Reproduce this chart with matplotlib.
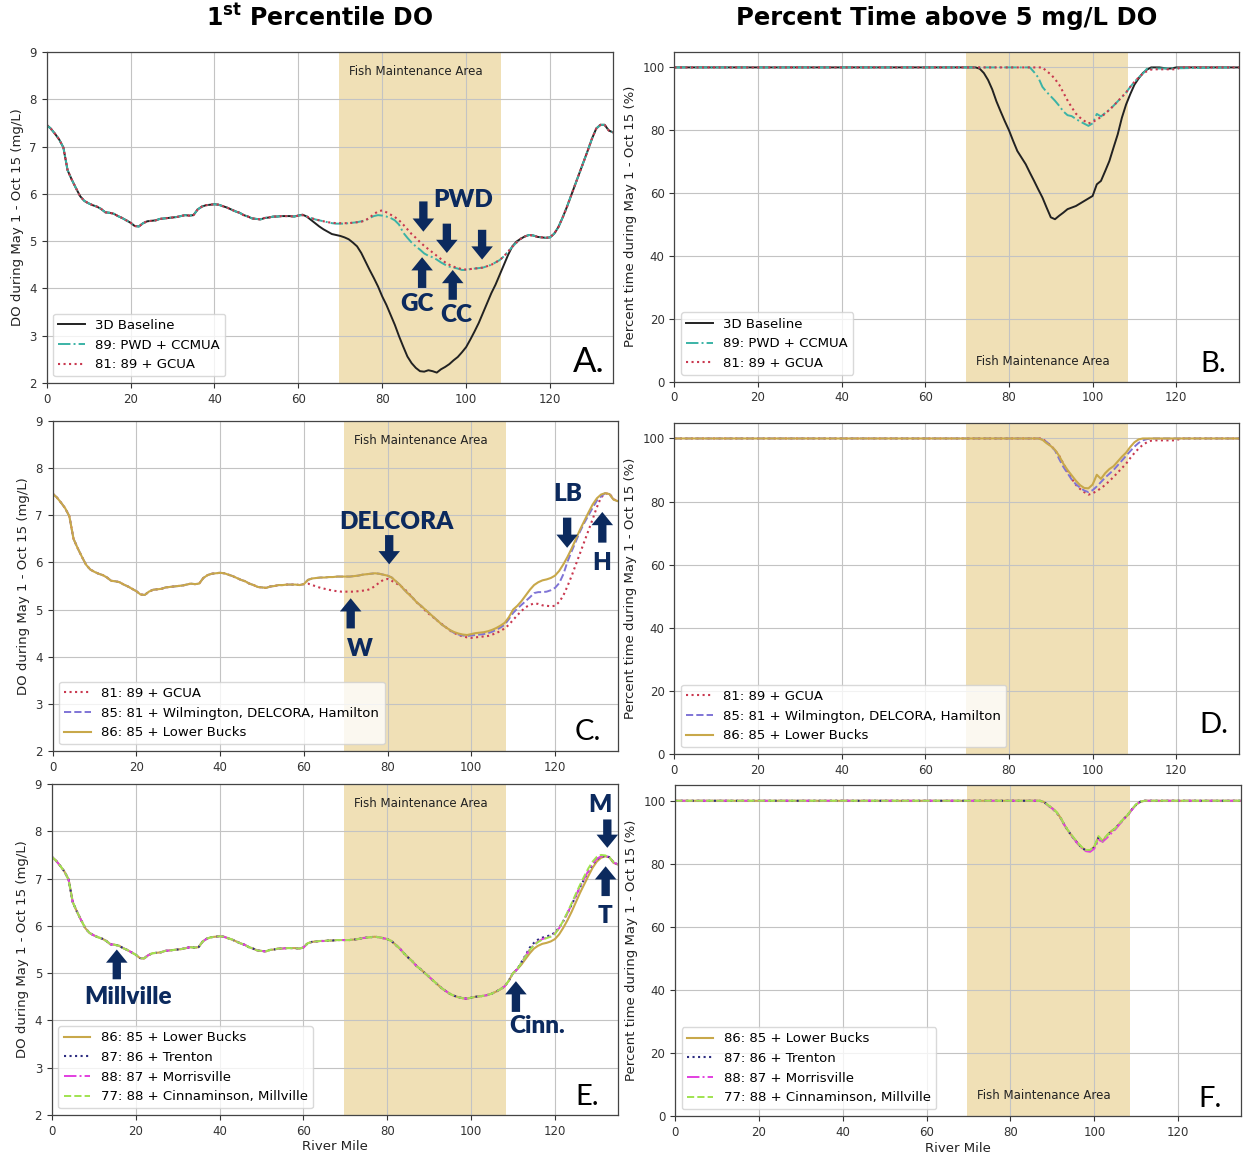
import matplotlib
matplotlib.use("Agg")
import matplotlib.pyplot as plt

plt.rcParams['font.family'] = ['DejaVu Sans']
plt.rcParams['mathtext.fontset'] = 'custom'
plt.rcParams['mathtext.rm'] = 'DejaVu Sans:bold'
plt.rcParams['mathtext.bf'] = 'DejaVu Sans:bold'

# ---------------------------------------------------------------------------
# 1st percentile DO (mg/L) by river mile
# ---------------------------------------------------------------------------
UP_MILE = list(range(0, 61))
UP_DO = [7.46, 7.38, 7.27, 7.15, 6.98, 6.50, 6.30, 6.12, 5.95, 5.85,
         5.80, 5.76, 5.73, 5.68, 5.61, 5.60, 5.58, 5.53, 5.49, 5.44,
         5.39, 5.32, 5.31, 5.38, 5.42, 5.43, 5.44, 5.47, 5.48, 5.49,
         5.50, 5.51, 5.53, 5.55, 5.54, 5.55, 5.67, 5.73, 5.76, 5.77,
         5.78, 5.77, 5.74, 5.71, 5.67, 5.63, 5.60, 5.55, 5.52, 5.48,
         5.47, 5.46, 5.49, 5.50, 5.52, 5.52, 5.53, 5.53, 5.53, 5.52,
         5.54]

BASE_MILE = list(range(61, 113))
BASE_DO = [5.56, 5.52, 5.45, 5.38, 5.31, 5.25, 5.20, 5.15, 5.13, 5.11,
           5.08, 5.04, 4.97, 4.89, 4.75, 4.57, 4.39, 4.22, 4.04, 3.83,
           3.65, 3.44, 3.23, 2.99, 2.77, 2.56, 2.42, 2.32, 2.25, 2.24,
           2.27, 2.25, 2.22, 2.29, 2.34, 2.40, 2.48, 2.55, 2.65, 2.76,
           2.92, 3.09, 3.27, 3.48, 3.69, 3.90, 4.08, 4.29, 4.50, 4.71,
           4.89, 4.99]

S89_MILE = list(range(61, 101))
S89_DO = [5.55, 5.52, 5.49, 5.46, 5.44, 5.42, 5.40, 5.38, 5.37, 5.37,
          5.37, 5.38, 5.39, 5.40, 5.42, 5.44, 5.49, 5.53, 5.55, 5.54,
          5.52, 5.49, 5.44, 5.35, 5.18, 5.07, 4.97, 4.89, 4.82, 4.74,
          4.69, 4.66, 4.61, 4.55, 4.50, 4.46, 4.44, 4.42, 4.39, 4.39]

S81_MILE = list(range(61, 136))
S81_DO = [5.55, 5.52, 5.49, 5.46, 5.44, 5.42, 5.40, 5.39, 5.38, 5.38,
          5.38, 5.38, 5.39, 5.40, 5.41, 5.44, 5.50, 5.57, 5.63, 5.65,
          5.61, 5.56, 5.51, 5.44, 5.35, 5.25, 5.15, 5.07, 4.98, 4.90,
          4.83, 4.76, 4.69, 4.62, 4.55, 4.50, 4.46, 4.43, 4.41, 4.40,
          4.41, 4.42, 4.43, 4.44, 4.47, 4.50, 4.55, 4.60, 4.68, 4.78,
          4.88, 4.97, 5.05, 5.10, 5.13, 5.12, 5.09, 5.08, 5.07, 5.08,
          5.16, 5.30, 5.50, 5.72, 5.96, 6.20, 6.44, 6.68, 6.92, 7.17,
          7.38, 7.46, 7.46, 7.34, 7.30]

S86_MILE = list(range(61, 136))
S86_DO = [5.63, 5.66, 5.67, 5.68, 5.68, 5.69, 5.69, 5.70, 5.70, 5.70,
          5.70, 5.71, 5.72, 5.74, 5.75, 5.76, 5.77, 5.76, 5.74, 5.72,
          5.68, 5.60, 5.52, 5.42, 5.33, 5.25, 5.15, 5.08, 5.00, 4.92,
          4.84, 4.76, 4.68, 4.62, 4.56, 4.52, 4.49, 4.47, 4.46, 4.48,
          4.50, 4.51, 4.52, 4.54, 4.57, 4.61, 4.66, 4.72, 4.84, 5.00,
          5.08, 5.18, 5.30, 5.42, 5.52, 5.58, 5.62, 5.64, 5.67, 5.72,
          5.82, 5.96, 6.12, 6.30, 6.50, 6.70, 6.88, 7.06, 7.23, 7.36,
          7.44, 7.47, 7.45, 7.33, 7.30]

S85_MILE = list(range(96, 132))
S85_DO = [4.50, 4.47, 4.45, 4.44, 4.45, 4.46, 4.47, 4.48, 4.50, 4.53,
          4.57, 4.62, 4.68, 4.80, 4.93, 5.02, 5.10, 5.18, 5.26, 5.35,
          5.37, 5.37, 5.38, 5.41, 5.46, 5.56, 5.75, 6.02, 6.24, 6.45,
          6.66, 6.84, 7.00, 7.16, 7.31, 7.40]

UPPER_MILE = list(range(112, 136))
S87_DO = [5.23, 5.38, 5.54, 5.64, 5.71, 5.75, 5.78, 5.80, 5.86, 5.96,
          6.10, 6.27, 6.45, 6.63, 6.82, 6.99, 7.16, 7.30, 7.41, 7.46,
          7.48, 7.45, 7.34, 7.30]
S88_DO = [5.22, 5.36, 5.50, 5.60, 5.67, 5.72, 5.75, 5.78, 5.84, 5.95,
          6.10, 6.27, 6.45, 6.64, 6.83, 7.00, 7.17, 7.31, 7.42, 7.47,
          7.48, 7.45, 7.34, 7.30]
S77_DO = [5.22, 5.35, 5.49, 5.59, 5.66, 5.71, 5.74, 5.77, 5.83, 5.95,
          6.11, 6.29, 6.48, 6.68, 6.87, 7.05, 7.22, 7.36, 7.46, 7.50,
          7.49, 7.45, 7.34, 7.30]

# ---------------------------------------------------------------------------
# Percent of time above 5 mg/L DO by river mile
# ---------------------------------------------------------------------------
PT_BASE_MILE = [0, 72] + list(range(73, 121)) + [135]
PT_BASE = [100, 100,
           99.6, 98.2, 96.0, 93.0, 89.2, 86.0, 82.9, 80.0, 76.6, 73.4,
           71.3, 69.2, 66.5, 63.9, 61.2, 58.6, 55.4, 52.3, 51.7, 52.8,
           53.8, 54.9, 55.4, 55.9, 56.7, 57.5, 58.3, 59.1, 62.8, 63.9,
           67.0, 70.2, 74.5, 78.7, 84.0, 88.2, 91.5, 94.5, 96.5, 98.2,
           99.3, 100.0, 100.0, 100.0, 99.8, 99.6, 99.7, 100.0,
           100]

PT_89_MILE = [0, 85] + list(range(86, 114)) + [135]
PT_89 = [100, 100,
         98.5, 96.8, 93.8, 92.2, 90.8, 89.4, 87.8, 86.0, 84.8, 84.5,
         83.6, 82.8, 82.1, 81.4, 82.2, 85.2, 84.4, 85.5, 86.5, 87.8,
         89.2, 90.6, 92.0, 93.8, 95.4, 96.8, 98.0, 99.6,
         100]

PT_81_MILE = [0, 88] + list(range(89, 121)) + [121, 135]
PT_81 = [100, 100,
         98.8, 97.8, 96.3, 94.5, 92.0, 89.5, 87.3, 85.3, 84.0, 83.0,
         82.2, 82.6, 83.4, 84.2, 85.3, 86.5, 87.8, 89.2, 90.6, 92.0,
         93.8, 95.4, 96.8, 98.0, 98.8, 99.3, 99.4, 99.4, 99.4, 99.4,
         99.4, 99.4,
         100, 100]

PT_85_MILE = [0, 87] + list(range(88, 115)) + [135]
PT_85 = [100, 100,
         99.7, 98.9, 97.6, 96.2, 93.5, 91.0, 89.0, 87.0, 85.5, 84.4,
         83.5, 83.0, 83.6, 84.8, 86.2, 87.6, 88.8, 90.0, 91.5, 93.0,
         94.5, 96.0, 97.4, 98.6, 99.4, 99.8, 100.0,
         100]

PT_86_MILE = [0, 87] + list(range(88, 113)) + [135]
PT_86 = [100, 100,
         99.6, 98.5, 97.6, 96.4, 94.5, 92.0, 90.0, 88.3, 86.6, 85.2,
         84.3, 84.2, 85.4, 88.5, 87.2, 89.0, 90.3, 91.2, 92.7, 94.2,
         95.5, 97.3, 98.8, 99.7, 100.0,
         100]
PT_87 = [100, 100,
         99.6, 98.5, 97.5, 96.3, 94.4, 92.0, 90.0, 88.2, 86.5, 85.1,
         84.2, 84.1, 85.2, 88.3, 87.1, 88.9, 90.2, 91.2, 92.7, 94.2,
         95.5, 97.3, 98.8, 99.7, 100.0,
         100]
PT_88 = [100, 100,
         99.6, 98.5, 97.5, 96.3, 94.4, 92.0, 90.0, 88.2, 86.4, 85.0,
         84.0, 83.8, 84.8, 87.6, 87.0, 88.2, 89.6, 90.9, 92.5, 94.1,
         95.4, 97.2, 98.8, 99.7, 100.0,
         100]
PT_77 = [100, 100,
         99.6, 98.6, 97.6, 96.4, 94.5, 92.1, 90.1, 88.4, 86.7, 85.3,
         84.4, 84.4, 85.5, 88.8, 87.3, 89.0, 90.3, 91.3, 92.8, 94.3,
         95.6, 97.4, 98.9, 99.7, 100.0,
         100]

FMA_START, FMA_END = 69.7, 108.4


def join(*parts):
    """Chain (mile, value) pieces, taking each piece only past the last mile."""
    m_out, v_out = [], []
    for miles, vals in parts:
        for x, y in zip(miles, vals):
            if not m_out or x > m_out[-1]:
                m_out.append(x)
                v_out.append(y)
    return m_out, v_out


def upto(part, limit):
    miles, vals = part
    keep = [(x, y) for x, y in zip(miles, vals) if x <= limit]
    return [k[0] for k in keep], [k[1] for k in keep]


UP = (UP_MILE, UP_DO)
DO_81 = join(UP, (S81_MILE, S81_DO))
DO_BASE = join(UP, (BASE_MILE, BASE_DO), DO_81)
DO_89 = join(UP, (S89_MILE, S89_DO), DO_81)
DO_86 = join(UP, (S86_MILE, S86_DO))
DO_85 = join(upto(DO_86, 95), (S85_MILE, S85_DO), DO_86)
DO_87 = join(upto(DO_86, 111), (UPPER_MILE, S87_DO))
DO_88 = join(upto(DO_86, 111), (UPPER_MILE, S88_DO))
DO_77 = join(upto(DO_86, 111), (UPPER_MILE, S77_DO))

STYLE = {
    'base': dict(color='#222222', ls='-', lw=1.4, label='3D Baseline'),
    '89': dict(color='#3bb3a6', ls='-.', lw=1.4, label='89: PWD + CCMUA'),
    '81': dict(color='#c9384f', ls=':', lw=1.5, label='81: 89 + GCUA'),
    '85': dict(color='#7f74d6', ls='--', lw=1.4,
               label='85: 81 + Wilmington, DELCORA, Hamilton'),
    '86': dict(color='#c8a84a', ls='-', lw=1.5, label='86: 85 + Lower Bucks'),
    '87': dict(color='#2b2b80', ls=':', lw=1.5, label='87: 86 + Trenton'),
    '88': dict(color='#e23fe0', ls='-.', lw=1.4, label='88: 87 + Morrisville'),
    '77': dict(color='#9fe34f', ls='--', lw=1.4,
               label='77: 88 + Cinnaminson, Millville'),
}

NAVY = '#0c2a5e'
SPAN = '#f0e0b6'
TICKC = '#333333'
ANNOT_FONT = ['Lato', 'DejaVu Sans']

W, H = 1243, 1155
fig = plt.figure(figsize=(W / 100, H / 100), dpi=100)


def box(left, top, right, bottom):
    return [left / W, 1 - bottom / H, (right - left) / W, (bottom - top) / H]


def setup(ax, kind, xlabel=False):
    ax.axvspan(FMA_START, FMA_END, color=SPAN, lw=0, zorder=0)
    ax.set_xlim(0, 135)
    ax.set_xticks([0, 20, 40, 60, 80, 100, 120])
    if kind == 'do':
        ax.set_ylim(2, 9)
        ax.set_yticks(range(2, 10))
        ax.set_ylabel('DO during May 1 - Oct 15 (mg/L)', fontsize=9.5,
                      color='#222222')
    else:
        ax.set_ylim(0, 105)
        ax.set_yticks([0, 20, 40, 60, 80, 100])
        ax.set_ylabel('Percent time during May 1 - Oct 15 (%)', fontsize=9.5,
                      color='#222222')
    ax.grid(True, color='#c3c3c3', lw=0.8, zorder=0.5)
    ax.tick_params(labelsize=8.5, colors=TICKC, length=3.5, width=0.8)
    for s in ax.spines.values():
        s.set_color('#444444')
        s.set_linewidth(0.9)
    if xlabel:
        ax.set_xlabel('River Mile', fontsize=9.5, color='#222222', labelpad=2)


def draw(ax, series, keys):
    for key in keys:
        m, v = series[key]
        ax.plot(m, v, zorder=2, **STYLE[key])
    ax.legend(loc='lower left', fontsize=9.5, framealpha=0.8,
              edgecolor='#d0d0d0', borderaxespad=0.5)


def fma(ax, y):
    ax.text((FMA_START + FMA_END) / 2 - 1.0, y, 'Fish Maintenance Area',
            ha='center', va='center', fontsize=8.5, color='#222222', zorder=3)


def letter(ax, s, dx, dy, size=21):
    ax.annotate(s, xy=(1, 0), xycoords='axes fraction', xytext=(-dx, dy),
                textcoords='offset pixels', ha='right', va='baseline',
                fontsize=size, family=ANNOT_FONT, color='black', zorder=5)


def arrow(ax, x, y_tail, y_tip):
    ax.annotate('', xy=(x, y_tip), xytext=(x, y_tail),
                arrowprops=dict(arrowstyle='simple,head_length=0.95,'
                                'head_width=1.55,tail_width=0.6',
                                mutation_scale=10, color=NAVY, lw=0,
                                shrinkA=0, shrinkB=0), zorder=6)


def label(ax, x, y, s):
    ax.text(x, y, s, ha='center', va='center', fontsize=17.5,
            fontweight='heavy', color=NAVY, family=ANNOT_FONT, zorder=6)


DO = {'base': DO_BASE, '89': DO_89, '81': DO_81, '85': DO_85, '86': DO_86,
      '87': DO_87, '88': DO_88, '77': DO_77}
PT = {'base': (PT_BASE_MILE, PT_BASE), '89': (PT_89_MILE, PT_89),
      '81': (PT_81_MILE, PT_81), '85': (PT_85_MILE, PT_85),
      '86': (PT_86_MILE, PT_86), '87': (PT_86_MILE, PT_87),
      '88': (PT_86_MILE, PT_88), '77': (PT_86_MILE, PT_77)}

# Panel A
axA = fig.add_axes(box(46.6, 52, 613, 383))
setup(axA, 'do')
draw(axA, DO, ['base', '89', '81'])
fma(axA, 8.58)
letter(axA, 'A.', 8, 11, size=25)
label(axA, 99.4, 5.87, 'PWD')
arrow(axA, 89.8, 5.84, 5.20)
arrow(axA, 95.4, 5.37, 4.75)
arrow(axA, 103.8, 5.24, 4.61)
arrow(axA, 89.5, 4.01, 4.66)
arrow(axA, 96.8, 3.76, 4.39)
label(axA, 88.3, 3.68, 'GC')
label(axA, 97.7, 3.43, 'CC')

# Panel B
axB = fig.add_axes(box(674.4, 51.7, 1239, 381.7))
setup(axB, 'pt')
draw(axB, PT, ['base', '89', '81'])
fma(axB, 6.3)
letter(axB, 'B.', 13, 10)

# Panel C
axC = fig.add_axes(box(52.6, 421, 617.8, 751))
setup(axC, 'do')
draw(axC, DO, ['81', '85', '86'])
fma(axC, 8.58)
letter(axC, 'C.', 17, 11)
label(axC, 82.2, 6.86, 'DELCORA')
arrow(axC, 80.4, 6.58, 5.96)
arrow(axC, 71.2, 4.60, 5.24)
label(axC, 73.3, 4.17, 'W')
label(axC, 123.0, 7.45, 'LB')
arrow(axC, 122.9, 6.95, 6.31)
arrow(axC, 131.3, 6.42, 7.07)
label(axC, 131.2, 5.98, 'H')

# Panel D
axD = fig.add_axes(box(674.4, 422.7, 1239, 754))
setup(axD, 'pt')
draw(axD, PT, ['81', '85', '86'])
letter(axD, 'D.', 11, 21)

# Panel E
axE = fig.add_axes(box(51.8, 784, 617.8, 1115))
setup(axE, 'do', xlabel=True)
draw(axE, DO, ['86', '87', '88', '77'])
fma(axE, 8.58)
letter(axE, 'E.', 19, 10)
label(axE, 130.8, 8.56, 'M')
arrow(axE, 132.5, 8.25, 7.65)
arrow(axE, 132.1, 6.63, 7.26)
label(axE, 132.0, 6.21, 'T')
arrow(axE, 15.5, 4.87, 5.50)
label(axE, 18.3, 4.50, 'Millville')
arrow(axE, 110.7, 4.18, 4.83)
label(axE, 115.8, 3.88, 'Cinn.')

# Panel F
axF = fig.add_axes(box(675.2, 785, 1241, 1116))
setup(axF, 'pt', xlabel=True)
draw(axF, PT, ['86', '87', '88', '77'])
fma(axF, 6.6)
letter(axF, 'F.', 19, 9)

# Column headings
fig.text(320 / W, 1 - 18 / H, r'1$^{\mathrm{st}}$ Percentile DO', ha='center',
         va='center', fontsize=17, fontweight='bold')
fig.text(947 / W, 1 - 18 / H, 'Percent Time above 5 mg/L DO', ha='center',
         va='center', fontsize=17.5, fontweight='bold')

fig.savefig('out.png', dpi=100, facecolor='white')
